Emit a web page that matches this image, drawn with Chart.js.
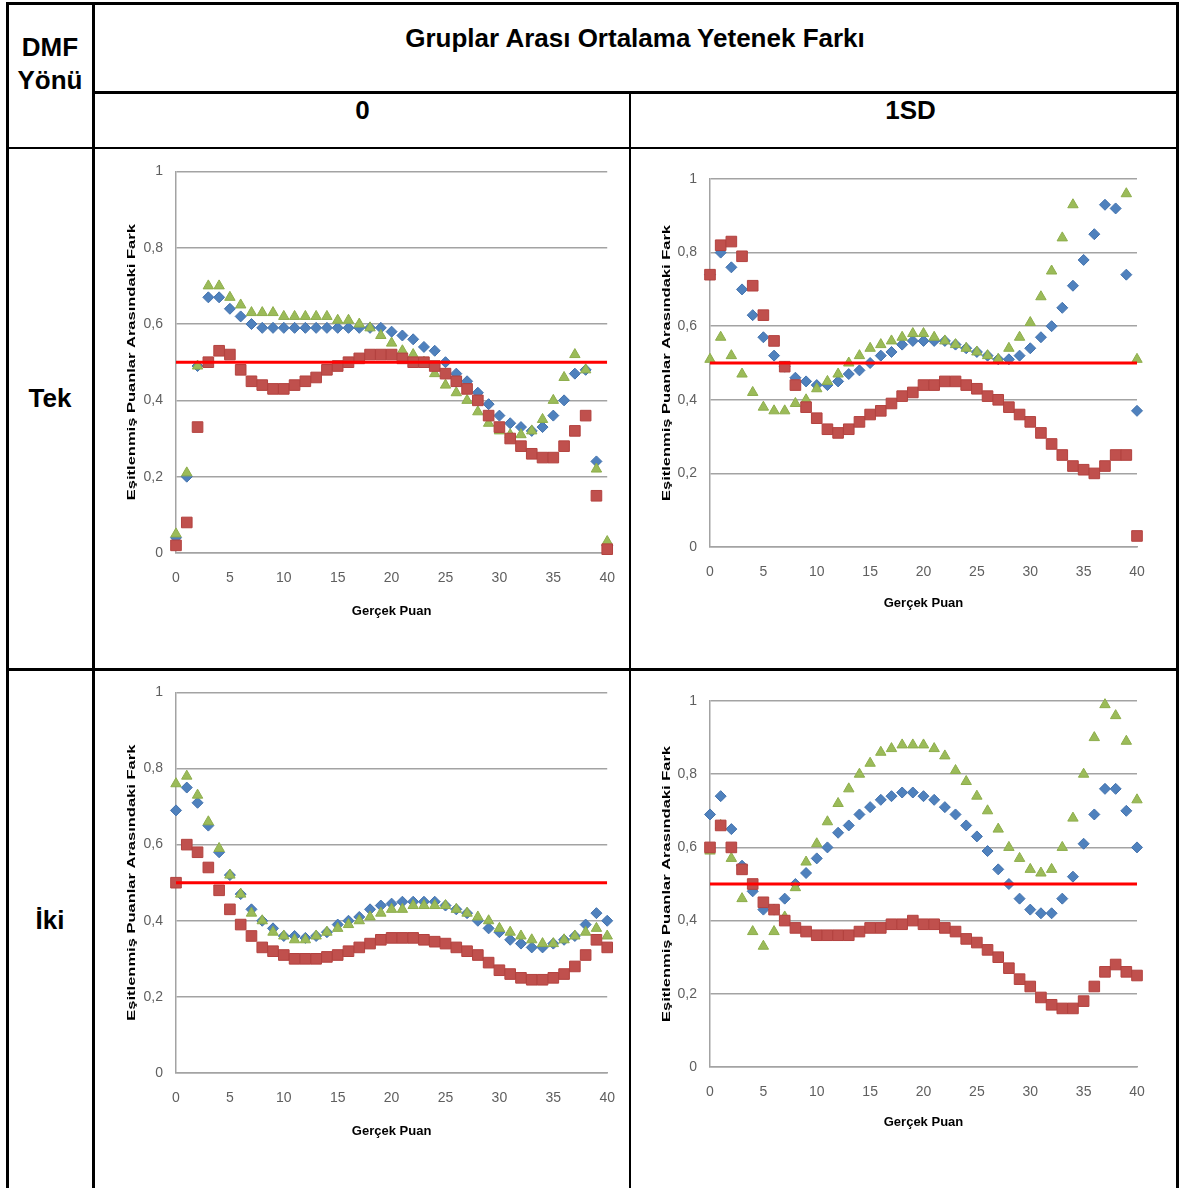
<!DOCTYPE html>
<html lang="tr">
<head>
<meta charset="UTF-8">
<title>Eşitlenmiş Puanlar Arasındaki Fark</title>
<script src="https://cdn.jsdelivr.net/npm/chart.js"></script>
<style>
  body { margin: 0; background: #fff; }
  #page { position: relative; width: 1181px; height: 1188px; overflow: hidden; font-family: "Liberation Sans", Arial, sans-serif; }
  .ln { position: absolute; background: #000; z-index: 2; }
  .txt { position: absolute; font-weight: bold; font-size: 26px; text-align: center; color: #000; }
  canvas { position: absolute; z-index: 1; }
</style>
</head>
<body>
<div id="page">
  <!-- table lines -->
  <div class="ln" style="left:6px;top:2px;width:1172px;height:3px"></div>
  <div class="ln" style="left:6px;top:2px;width:3px;height:1186px"></div>
  <div class="ln" style="left:92px;top:2px;width:3px;height:1186px"></div>
  <div class="ln" style="left:1176px;top:2px;width:3px;height:1186px"></div>
  <div class="ln" style="left:93px;top:91px;width:1085px;height:3px"></div>
  <div class="ln" style="left:629px;top:92px;width:2px;height:1096px"></div>
  <div class="ln" style="left:6px;top:147px;width:1172px;height:2px"></div>
  <div class="ln" style="left:6px;top:668px;width:1172px;height:3px"></div>

  <div class="txt" style="left:8px;top:31px;width:84px;line-height:33px">DMF<br>Yönü</div>
  <div class="txt" style="left:94px;top:22px;width:1082px;line-height:32px">Gruplar Arası Ortalama Yetenek Farkı</div>
  <div class="txt" style="left:94px;top:94px;width:537px;line-height:32px">0</div>
  <div class="txt" style="left:638px;top:94px;width:545px;line-height:32px">1SD</div>
  <div class="txt" style="left:8px;top:382px;width:84px;line-height:32px">Tek</div>
  <div class="txt" style="left:8px;top:904px;width:84px;line-height:32px">İki</div>

  <canvas id="tekZero" width="532" height="480" style="left:100px;top:150px"></canvas>
  <canvas id="tekSd" width="540" height="475" style="left:635px;top:155px"></canvas>
  <canvas id="ikiZero" width="532" height="479" style="left:100px;top:671px"></canvas>
  <canvas id="ikiSd" width="540" height="475" style="left:635px;top:675px"></canvas>
</div>

<script>
// x values (Gerçek Puan)
const scores = [0, 1, 2, 3, 4, 5, 6, 7, 8, 9, 10, 11, 12, 13, 14, 15, 16, 17, 18, 19, 20,
                21, 22, 23, 24, 25, 26, 27, 28, 29, 30, 31, 32, 33, 34, 35, 36, 37, 38, 39, 40];
const yTickLabels = ['0', '0,2', '0,4', '0,6', '0,8', '1'];
const cutoff = 0.5;
const xTitle = 'Gerçek Puan';
const yTitle = 'Eşitlenmiş Puanlar Arasındaki Fark';

// Tek yönlü DMF, yetenek farkı 0
const tekZeroBlue = [0.04, 0.20, 0.49, 0.67, 0.67, 0.64, 0.62, 0.60, 0.59, 0.59, 0.59, 0.59, 0.59, 0.59, 0.59, 0.59, 0.59, 0.59, 0.59, 0.59, 0.58,
                     0.57, 0.56, 0.54, 0.53, 0.50, 0.47, 0.45, 0.42, 0.39, 0.36, 0.34, 0.33, 0.32, 0.33, 0.36, 0.40, 0.47, 0.48, 0.24, 0.02];
const tekZeroRed = [0.02, 0.08, 0.33, 0.50, 0.53, 0.52, 0.48, 0.45, 0.44, 0.43, 0.43, 0.44, 0.45, 0.46, 0.48, 0.49, 0.50, 0.51, 0.52, 0.52, 0.52,
                    0.51, 0.50, 0.50, 0.49, 0.47, 0.45, 0.43, 0.40, 0.36, 0.33, 0.30, 0.28, 0.26, 0.25, 0.25, 0.28, 0.32, 0.36, 0.15, 0.01];
const tekZeroGreen = [0.05, 0.21, 0.49, 0.70, 0.70, 0.67, 0.65, 0.63, 0.63, 0.63, 0.62, 0.62, 0.62, 0.62, 0.62, 0.61, 0.61, 0.60, 0.59, 0.57, 0.55,
                      0.53, 0.52, 0.50, 0.47, 0.44, 0.42, 0.40, 0.37, 0.34, 0.32, 0.31, 0.31, 0.32, 0.35, 0.40, 0.46, 0.52, 0.48, 0.22, 0.03];

// Tek yönlü DMF, yetenek farkı 1SD
const tekSdBlue = [0.74, 0.80, 0.76, 0.70, 0.63, 0.57, 0.52, 0.49, 0.46, 0.45, 0.44, 0.44, 0.45, 0.47, 0.48, 0.50, 0.52, 0.53, 0.55, 0.56, 0.56,
                   0.56, 0.56, 0.55, 0.54, 0.53, 0.52, 0.51, 0.51, 0.52, 0.54, 0.57, 0.60, 0.65, 0.71, 0.78, 0.85, 0.93, 0.92, 0.74, 0.37];
const tekSdRed = [0.74, 0.82, 0.83, 0.79, 0.71, 0.63, 0.56, 0.49, 0.44, 0.38, 0.35, 0.32, 0.31, 0.32, 0.34, 0.36, 0.37, 0.39, 0.41, 0.42, 0.44,
                  0.44, 0.45, 0.45, 0.44, 0.43, 0.41, 0.40, 0.38, 0.36, 0.34, 0.31, 0.28, 0.25, 0.22, 0.21, 0.20, 0.22, 0.25, 0.25, 0.03];
const tekSdGreen = [0.51, 0.57, 0.52, 0.47, 0.42, 0.38, 0.37, 0.37, 0.39, 0.40, 0.43, 0.45, 0.47, 0.50, 0.52, 0.54, 0.55, 0.56, 0.57, 0.58, 0.58,
                    0.57, 0.56, 0.55, 0.54, 0.53, 0.52, 0.51, 0.54, 0.57, 0.61, 0.68, 0.75, 0.84, 0.93, null, null, null, null, 0.96, 0.51];

// İki yönlü DMF, yetenek farkı 0
const ikiZeroBlue = [0.69, 0.75, 0.71, 0.65, 0.58, 0.52, 0.47, 0.43, 0.40, 0.38, 0.36, 0.36, 0.355, 0.36, 0.37, 0.39, 0.40, 0.41, 0.43, 0.44, 0.445,
                     0.45, 0.45, 0.45, 0.45, 0.44, 0.43, 0.42, 0.40, 0.38, 0.37, 0.35, 0.34, 0.33, 0.33, 0.34, 0.35, 0.36, 0.39, 0.42, 0.40];
const ikiZeroRed = [0.50, 0.60, 0.58, 0.54, 0.48, 0.43, 0.39, 0.36, 0.33, 0.32, 0.31, 0.30, 0.30, 0.30, 0.305, 0.31, 0.32, 0.33, 0.34, 0.35, 0.355,
                    0.355, 0.355, 0.35, 0.345, 0.34, 0.33, 0.32, 0.31, 0.29, 0.27, 0.26, 0.25, 0.245, 0.245, 0.25, 0.26, 0.28, 0.31, 0.35, 0.33];
const ikiZeroGreen = [0.76, 0.78, 0.73, 0.66, 0.59, 0.52, 0.47, 0.42, 0.40, 0.37, 0.36, 0.35, 0.35, 0.36, 0.37, 0.38, 0.39, 0.40, 0.41, 0.42, 0.43,
                      0.43, 0.44, 0.44, 0.44, 0.44, 0.43, 0.42, 0.41, 0.40, 0.38, 0.37, 0.36, 0.35, 0.34, 0.34, 0.35, 0.36, 0.37, 0.38, 0.36];

// İki yönlü DMF, yetenek farkı 1SD
const ikiSdBlue = [0.69, 0.74, 0.65, 0.55, 0.48, 0.43, 0.43, 0.46, 0.50, 0.53, 0.57, 0.60, 0.64, 0.66, 0.69, 0.71, 0.73, 0.74, 0.75, 0.75, 0.74,
                   0.73, 0.71, 0.69, 0.66, 0.63, 0.59, 0.54, 0.50, 0.46, 0.43, 0.42, 0.42, 0.46, 0.52, 0.61, 0.69, 0.76, 0.76, 0.70, 0.60];
const ikiSdRed = [0.60, 0.66, 0.60, 0.54, 0.50, 0.45, 0.43, 0.40, 0.38, 0.37, 0.36, 0.36, 0.36, 0.36, 0.37, 0.38, 0.38, 0.39, 0.39, 0.40, 0.39,
                  0.39, 0.38, 0.37, 0.35, 0.34, 0.32, 0.30, 0.27, 0.24, 0.22, 0.19, 0.17, 0.16, 0.16, 0.18, 0.22, 0.26, 0.28, 0.26, 0.25];
const ikiSdGreen = [0.59, 0.66, 0.57, 0.46, 0.37, 0.33, 0.37, 0.41, 0.49, 0.56, 0.61, 0.67, 0.72, 0.76, 0.80, 0.83, 0.86, 0.87, 0.88, 0.88, 0.88,
                    0.87, 0.85, 0.81, 0.78, 0.74, 0.70, 0.65, 0.60, 0.57, 0.54, 0.53, 0.54, 0.60, 0.68, 0.80, 0.90, 0.99, 0.96, 0.89, 0.73];

const gridColor = '#a3a3a3';
const tickColor = '#5f5f5f';

function pairs(values) {
  return values.map((v, i) => ({ x: scores[i], y: v }));
}

// rotated y title, stretched along its length like the original
const yTitlePlugin = {
  id: 'yTitle',
  afterDraw(chart, args, opts) {
    const { ctx, chartArea } = chart;
    ctx.save();
    ctx.translate(chart.scales.y.left + opts.offset, (chartArea.top + chartArea.bottom) / 2);
    ctx.rotate(-Math.PI / 2);
    ctx.scale(1.5, 1);
    ctx.font = 'bold 11px "Liberation Sans", Arial, sans-serif';
    ctx.textAlign = 'center';
    ctx.textBaseline = 'middle';
    ctx.fillStyle = '#000';
    ctx.fillText(yTitle, 0, 0);
    ctx.restore();
  }
};

function buildChart(id, blue, red, green, L) {
  new Chart(document.getElementById(id), {
    type: 'scatter',
    data: {
      datasets: [
        {
          label: 'Kesme',
          data: [{ x: scores[0], y: cutoff }, { x: scores[scores.length - 1], y: cutoff }],
          showLine: true, borderColor: '#ff0000', borderWidth: 3, pointRadius: 0, order: 0
        },
        {
          label: 'Seri 2', data: pairs(red), pointStyle: 'rect', pointRadius: 7.5,
          backgroundColor: '#c0504d', borderColor: '#b3423f', borderWidth: 1, order: 1, clip: false
        },
        {
          label: 'Seri 3', data: pairs(green), pointStyle: 'triangle', pointRadius: 6,
          backgroundColor: '#9bbb59', borderColor: '#8dad4b', borderWidth: 1, order: 2, clip: false
        },
        {
          label: 'Seri 1', data: pairs(blue), pointStyle: 'rectRot', pointRadius: 5.5,
          backgroundColor: '#4f81bd', borderColor: '#4372ad', borderWidth: 1, order: 3, clip: false
        }
      ]
    },
    options: {
      responsive: false,
      animation: false,
      events: [],
      layout: { padding: { top: L.top, right: L.right, left: 0, bottom: 0 } },
      plugins: {
        legend: { display: false },
        tooltip: { enabled: false },
        yTitle: { offset: 32 }
      },
      scales: {
        x: {
          type: 'linear', min: 0, max: 40,
          ticks: { stepSize: 5, padding: 17, color: tickColor, font: { family: '"Liberation Sans", Arial', size: 14 } },
          grid: { display: false, drawTicks: false },
          border: { display: true, color: gridColor, width: 1.5 },
          title: {
            display: true, text: xTitle, color: '#000',
            font: { family: '"Liberation Sans", Arial', size: 13, weight: 'bold' },
            padding: { top: 0, bottom: L.xTitlePad }
          },
          afterFit: s => { s.height = L.xh; }
        },
        y: {
          min: 0, max: 1,
          ticks: {
            stepSize: 0.2, padding: 13, color: tickColor,
            font: { family: '"Liberation Sans", Arial', size: 14 },
            callback: (v, i) => yTickLabels[i]
          },
          grid: { color: gridColor, lineWidth: 1.5, drawTicks: false },
          border: { display: true, color: gridColor, width: 1.5 },
          afterFit: s => { s.width = L.yw; }
        }
      }
    },
    plugins: [yTitlePlugin]
  });
}

buildChart('tekZero', tekZeroBlue, tekZeroRed, tekZeroGreen, { top: 16, right: 18, yw: 76, xh: 77, xTitlePad: 11 });
buildChart('tekSd', tekSdBlue, tekSdRed, tekSdGreen, { top: 24, right: 38, yw: 75, xh: 83, xTitlePad: 19 });
buildChart('ikiZero', ikiZeroBlue, ikiZeroRed, ikiZeroGreen, { top: 17, right: 18, yw: 76, xh: 77, xTitlePad: 11 });
buildChart('ikiSd', ikiSdBlue, ikiSdRed, ikiSdGreen, { top: 26, right: 38, yw: 75, xh: 83, xTitlePad: 20 });
</script>
</body>
</html>
